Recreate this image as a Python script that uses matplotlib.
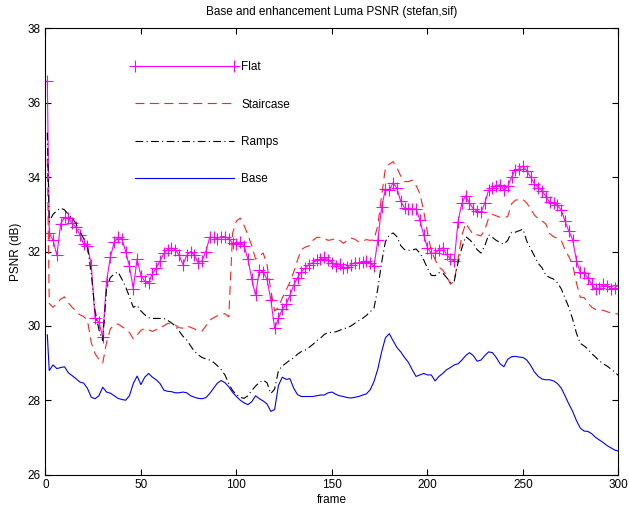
import matplotlib
matplotlib.use('Agg')
import matplotlib.pyplot as plt

plt.rcParams['font.family'] = ['Liberation Sans', 'DejaVu Sans']

# frame numbers: 1 then every second frame up to 300
frames = [1] + list(range(2, 301, 2))

flat = [36.6, 32.5, 32.3, 31.9, 32.75, 32.92, 32.9, 32.76, 32.65, 32.45, 32.2,
        32.15, 31.64, 30.2, 30.1, 29.7, 31.2, 31.85, 32.25, 32.38, 32.35,
        32.0, 31.6, 31.0, 31.8, 31.35, 31.2, 31.15, 31.4, 31.55, 31.75,
        31.95, 32.05, 32.1, 32.05, 31.9, 31.65, 31.9, 32.0, 31.9, 31.7,
        31.75, 32.0, 32.38, 32.38, 32.35, 32.4, 32.4, 32.35, 32.22, 32.2,
        32.25, 32.15, 31.8, 31.27, 30.82, 31.5, 31.45, 31.25, 30.7, 29.93,
        30.2, 30.45, 30.58, 30.82, 31.1, 31.3, 31.45, 31.56, 31.65, 31.7,
        31.76, 31.8, 31.84, 31.78, 31.7, 31.6, 31.67, 31.55, 31.58, 31.65,
        31.7, 31.68, 31.72, 31.75, 31.7, 31.6, 32.3, 33.2, 33.68, 33.65,
        33.85, 33.7, 33.35, 33.17, 33.14, 33.14, 33.15, 32.85, 32.45, 32.1,
        31.95, 31.96, 32.05, 32.1, 31.92, 31.8, 31.75, 32.8, 33.3, 33.5,
        33.3, 33.15, 33.1, 33.05, 33.3, 33.65, 33.72, 33.75, 33.8, 33.65,
        33.75, 34.0, 34.2, 34.22, 34.3, 34.17, 34.0, 33.82, 33.72, 33.64,
        33.48, 33.32, 33.3, 33.24, 33.12, 32.82, 32.55, 32.32, 31.75, 31.44,
        31.42, 31.28, 31.12, 30.98, 31.02, 31.12, 31.08, 30.98, 31.02, 31.1]

staircase = [34.5, 30.6, 30.5, 30.6, 30.72, 30.78, 30.62, 30.5, 30.4, 30.3,
             30.25, 30.15, 29.55, 29.25, 29.1, 29.0, 29.55, 29.92, 30.03,
             30.05, 29.98, 29.92, 29.82, 29.65, 29.75, 29.88, 29.93, 29.9,
             29.85, 29.9, 29.94, 30.0, 30.07, 30.05, 30.02, 29.95, 29.94,
             30.0, 29.96, 29.92, 29.86, 29.86, 30.0, 30.15, 30.22, 30.27,
             30.3, 30.33, 30.24, 32.5, 32.82, 32.9, 32.7, 32.45, 32.16, 31.8,
             31.88, 31.96, 31.65, 30.95, 30.4, 30.5, 30.75, 30.96, 31.18,
             31.45, 31.78, 32.05, 32.12, 32.15, 32.3, 32.38, 32.38, 32.35,
             32.3, 32.32, 32.35, 32.3, 32.22, 32.3, 32.36, 32.33, 32.26,
             32.28, 32.32, 32.3, 32.32, 32.7, 33.5, 34.25, 34.35, 34.42,
             34.25, 34.03, 33.88, 33.88, 33.92, 33.78, 33.56, 33.1, 32.5,
             32.02, 31.78, 31.58, 31.5, 31.35, 31.12, 31.2, 31.8, 32.43,
             32.76, 32.6, 32.45, 32.45, 32.42, 32.58, 32.9, 33.0, 32.96,
             32.92, 32.91, 32.94, 33.28, 33.38, 33.4, 33.4, 33.3, 33.15,
             32.98, 32.88, 32.82, 32.74, 32.48, 32.4, 32.35, 32.3, 32.05,
             31.86, 31.65, 31.15, 30.77, 30.76, 30.62, 30.5, 30.44, 30.42,
             30.42, 30.38, 30.35, 30.33, 30.32]

ramps = [35.2, 32.8, 33.0, 33.1, 33.17, 33.12, 33.0, 32.9, 32.75, 32.55,
         32.35, 32.15, 31.4, 30.4, 29.9, 29.6, 31.0, 31.3, 31.4, 31.45,
         31.26, 31.05, 30.78, 30.5, 30.55, 30.4, 30.3, 30.22, 30.2, 30.2,
         30.2, 30.2, 30.15, 30.08, 30.0, 29.86, 29.72, 29.62, 29.46, 29.32,
         29.22, 29.15, 29.11, 29.08, 29.02, 28.93, 28.82, 28.68, 28.44,
         28.26, 28.15, 28.08, 28.05, 28.12, 28.26, 28.38, 28.48, 28.54,
         28.47, 28.18, 28.3, 28.8, 28.92, 29.0, 29.08, 29.14, 29.24, 29.31,
         29.35, 29.42, 29.5, 29.6, 29.67, 29.77, 29.82, 29.83, 29.84, 29.88,
         29.92, 29.95, 30.0, 30.07, 30.14, 30.2, 30.28, 30.38, 30.48, 31.0,
         31.7, 32.27, 32.44, 32.5, 32.4, 32.16, 32.05, 32.03, 32.04, 32.07,
         31.96, 31.78, 31.55, 31.36, 31.35, 31.43, 31.42, 31.3, 31.17, 31.2,
         31.7, 32.1, 32.4, 32.32, 32.22, 32.05, 31.96, 32.15, 32.45, 32.38,
         32.3, 32.24, 32.2, 32.3, 32.52, 32.52, 32.56, 32.6, 32.28, 32.08,
         31.88, 31.68, 31.56, 31.36, 31.3, 31.26, 31.16, 31.0, 30.75, 30.5,
         30.18, 29.8, 29.53, 29.46, 29.38, 29.25, 29.16, 29.06, 28.98,
         28.92, 28.84, 28.76, 28.66]

base = [29.76, 28.8, 28.95, 28.85, 28.88, 28.9, 28.74, 28.66, 28.58, 28.49,
        28.46, 28.32, 28.08, 28.04, 28.12, 28.35, 28.22, 28.19, 28.12,
        28.05, 28.02, 28.0, 28.12, 28.45, 28.65, 28.42, 28.62, 28.72, 28.62,
        28.55, 28.45, 28.27, 28.24, 28.23, 28.2, 28.2, 28.22, 28.2, 28.12,
        28.08, 28.05, 28.04, 28.07, 28.18, 28.32, 28.46, 28.53, 28.47,
        28.36, 28.21, 28.1, 28.0, 27.93, 27.88, 27.96, 28.12, 28.04, 27.98,
        27.9, 27.7, 27.75, 28.4, 28.62, 28.56, 28.58, 28.32, 28.15, 28.1,
        28.1, 28.1, 28.1, 28.12, 28.14, 28.14, 28.2, 28.22, 28.16, 28.12,
        28.1, 28.07, 28.06, 28.08, 28.1, 28.14, 28.17, 28.28, 28.5, 28.84,
        29.3, 29.68, 29.79, 29.6, 29.42, 29.3, 29.15, 29.02, 28.82, 28.64,
        28.68, 28.72, 28.68, 28.68, 28.52, 28.64, 28.72, 28.82, 28.88,
        28.95, 28.98, 29.08, 29.2, 29.28, 29.2, 29.05, 29.08, 29.2, 29.3,
        29.28, 29.15, 28.98, 28.9, 29.1, 29.17, 29.18, 29.16, 29.15, 29.08,
        28.94, 28.76, 28.64, 28.57, 28.55, 28.55, 28.52, 28.45, 28.33,
        28.12, 27.9, 27.7, 27.45, 27.25, 27.17, 27.16, 27.1, 27.0, 26.93,
        26.86, 26.78, 26.72, 26.66, 26.63]

labels = ['Flat', 'Staircase', 'Ramps', 'Base']
x_ticks = [0, 50, 100, 150, 200, 250, 300]
y_ticks = [26, 28, 30, 32, 34, 36, 38]

fig = plt.figure(figsize=(6.29, 5.14), dpi=100)
ax = fig.add_axes([0.0722, 0.0767, 0.9111, 0.8679])

ax.plot(frames, flat, color='#ff00ff', lw=0.8, marker='+', ms=8,
        mew=0.8, label=labels[0])
ax.plot(frames, staircase, color='#ff2020', lw=0.8, ls=(0, (8, 5)),
        label=labels[1])
ax.plot(frames, ramps, color='black', lw=0.8, ls=(0, (7, 3, 1, 3)),
        label=labels[2])
ax.plot(frames, base, color='#0000ff', lw=0.8, label=labels[3])

ax.set_xlim(0, 300)
ax.set_ylim(26, 38)
ax.set_xticks(x_ticks)
ax.set_yticks(y_ticks)
ax.tick_params(direction='in', top=True, right=True, length=4,
               labelsize=8.5, width=0.8)
for s in ax.spines.values():
    s.set_linewidth(0.8)

ax.set_title('Base and enhancement Luma PSNR (stefan,sif)', fontsize=8.5,
             pad=10)
ax.set_xlabel('frame', fontsize=8.5, labelpad=2)
ax.set_ylabel('PSNR (dB)', fontsize=8.5, labelpad=4)

ax.legend(loc='upper left', bbox_to_anchor=(0.14, 0.94), frameon=False,
          fontsize=8.5, handlelength=9, labelspacing=2.15, numpoints=2,
          handletextpad=0.3, borderpad=0)

fig.savefig('out.png', dpi=100)
